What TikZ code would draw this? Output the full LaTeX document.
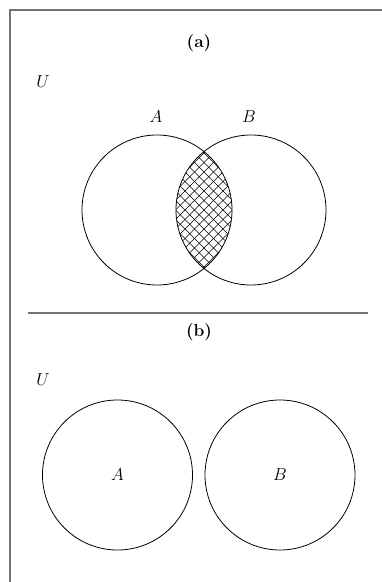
\documentclass[tikz,border=0pt]{standalone}
\usetikzlibrary{calc}
\newcommand{\etiq}[1]{{\LARGE #1}}
\tikzset{
    etiqueta/.style={inner sep=2pt},
    conjunto/.style={draw, line width=0.8pt},
    marco/.style={draw=black!55, line width=1.2pt}
}
\begin{document}
\begin{tikzpicture}[x=1pt, y=-1pt]
    \useasboundingbox (0,0) rectangle (382,582);

    % Marco y separador
    \draw[marco] (382,10) -- (10,10) -- (10,582);
    \draw[marco] (28,313) -- (368,313);

    % Centros de los conjuntos
    \coordinate (A1) at (157,210);
    \coordinate (B1) at (251,210);
    \coordinate (A2) at (117.5,475);
    \coordinate (B2) at (280,475);

    % Interseccion rayada (a)
    \begin{scope}
        \clip (A1) circle[radius=75pt];
        \clip (B1) circle[radius=75pt];
        \foreach \k in {-133,-123.5,...,133} {
            \draw[line width=0.55pt] ($(204,210)+(\k-90,-90)$) -- ++(180,180);
            \draw[line width=0.55pt] ($(204,210)+(\k+90,-90)$) -- ++(-180,180);
        }
    \end{scope}

    % Conjuntos (a)
    \draw[conjunto] (A1) circle[radius=75pt];
    \draw[conjunto] (B1) circle[radius=75pt];

    % Conjuntos (b)
    \draw[conjunto] (A2) circle[radius=75pt];
    \draw[conjunto] (B2) circle[radius=75pt];

    % Etiquetas
    \node[etiqueta] (ta) at (199,43) {\etiq{\textbf{(a)}}};
    \node[etiqueta] (ua) at (43,82) {\etiq{$U$}};
    \node[etiqueta] (la) at (156,117) {\etiq{$A$}};
    \node[etiqueta] (lb) at (249,117) {\etiq{$B$}};
    \node[etiqueta] (tb) at (199,332) {\etiq{\textbf{(b)}}};
    \node[etiqueta] (ub) at (43,380) {\etiq{$U$}};
    \node[etiqueta] (la2) at (A2) {\etiq{$A$}};
    \node[etiqueta] (lb2) at (B2) {\etiq{$B$}};
\end{tikzpicture}
\end{document}
